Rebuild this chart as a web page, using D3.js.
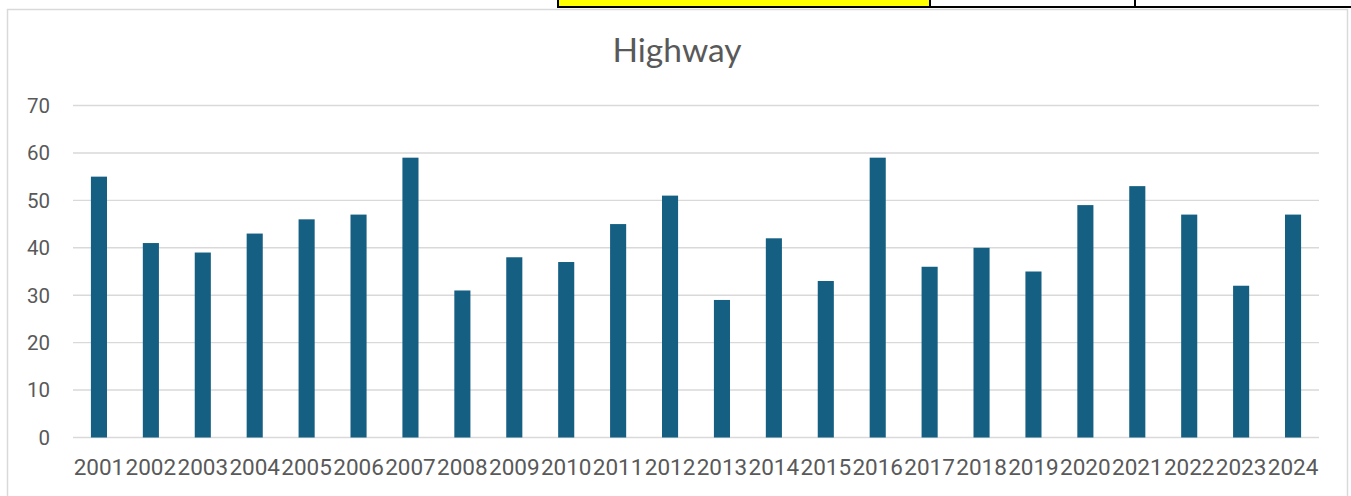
<!DOCTYPE html>
<html>
<head>
<meta charset="utf-8">
<script src="https://cdn.jsdelivr.net/npm/d3@7"></script>
<style>
  html, body { margin: 0; padding: 0; background: #fff; }
  #chart { position: relative; width: 1351px; height: 496px; overflow: hidden; }
</style>
</head>
<body>
<div id="chart"></div>
<script>
var width = 1351;
var height = 496;

var years = ["2001","2002","2003","2004","2005","2006","2007","2008","2009","2010","2011","2012",
             "2013","2014","2015","2016","2017","2018","2019","2020","2021","2022","2023","2024"];
var highway = [55, 41, 39, 43, 46, 47, 59, 31, 38, 37, 45, 51,
               29, 42, 33, 59, 36, 40, 35, 49, 53, 47, 32, 47];
var yTicks = [0, 10, 20, 30, 40, 50, 60, 70];
var title = "Highway";

var plot = { left: 73, right: 1319, top: 105.5, bottom: 437.5 };

var svg = d3.select("#chart").append("svg")
    .attr("width", width)
    .attr("height", height);

// spreadsheet cells peeking in above the chart
svg.append("rect").attr("x", 558).attr("y", -2).attr("width", 372).attr("height", 9)
    .attr("fill", "#ffff00").attr("stroke", "#000").attr("stroke-width", 2);
svg.append("rect").attr("x", 930).attr("y", -2).attr("width", 205).attr("height", 9)
    .attr("fill", "#fff").attr("stroke", "#000").attr("stroke-width", 2);
svg.append("rect").attr("x", 1135).attr("y", -2).attr("width", 220).attr("height", 9)
    .attr("fill", "#fff").attr("stroke", "#000").attr("stroke-width", 2);

// chart area frame
svg.append("rect").attr("x", 7.5).attr("y", 9.5).attr("width", 1340).attr("height", 500)
    .attr("fill", "none").attr("stroke", "#d9d9d9").attr("stroke-width", 1.5);

var x = d3.scaleBand()
    .domain(years)
    .range([plot.left, plot.right])
    .paddingInner(0.69)
    .paddingOuter(0.345);

var y = d3.scaleLinear()
    .domain([0, 70])
    .range([plot.bottom, plot.top]);

// gridlines
svg.append("g").selectAll("line")
    .data(yTicks).enter().append("line")
    .attr("x1", plot.left).attr("x2", plot.right)
    .attr("y1", d => y(d)).attr("y2", d => y(d))
    .attr("stroke", "#d9d9d9").attr("stroke-width", 1.4);

// y labels
svg.append("g").selectAll("text")
    .data(yTicks).enter().append("text")
    .attr("x", 50).attr("y", d => y(d))
    .attr("dy", "0.36em")
    .attr("text-anchor", "end")
    .attr("font-family", "Roboto, 'Open Sans', sans-serif")
    .attr("font-size", "20.5px")
    .attr("fill", "#595959")
    .text(d => d);

// bars
svg.append("g").selectAll("rect")
    .data(highway).enter().append("rect")
    .attr("x", (d, i) => x(years[i]))
    .attr("width", x.bandwidth())
    .attr("y", d => y(d))
    .attr("height", d => y(0) - y(d))
    .attr("fill", "#156082");

// x labels
svg.append("g").selectAll("text")
    .data(years).enter().append("text")
    .attr("x", d => x(d) + x.bandwidth() / 2)
    .attr("y", 475)
    .attr("text-anchor", "middle")
    .attr("font-family", "Roboto, 'Open Sans', sans-serif")
    .attr("font-size", "22.5px")
    .attr("fill", "#595959")
    .text(d => d);

// title
svg.append("text")
    .attr("x", 677).attr("y", 62)
    .attr("text-anchor", "middle")
    .attr("font-family", "Lato, 'Open Sans', sans-serif")
    .attr("font-size", "33.5px")
    .attr("fill", "#595959")
    .text(title);
</script>
</body>
</html>
